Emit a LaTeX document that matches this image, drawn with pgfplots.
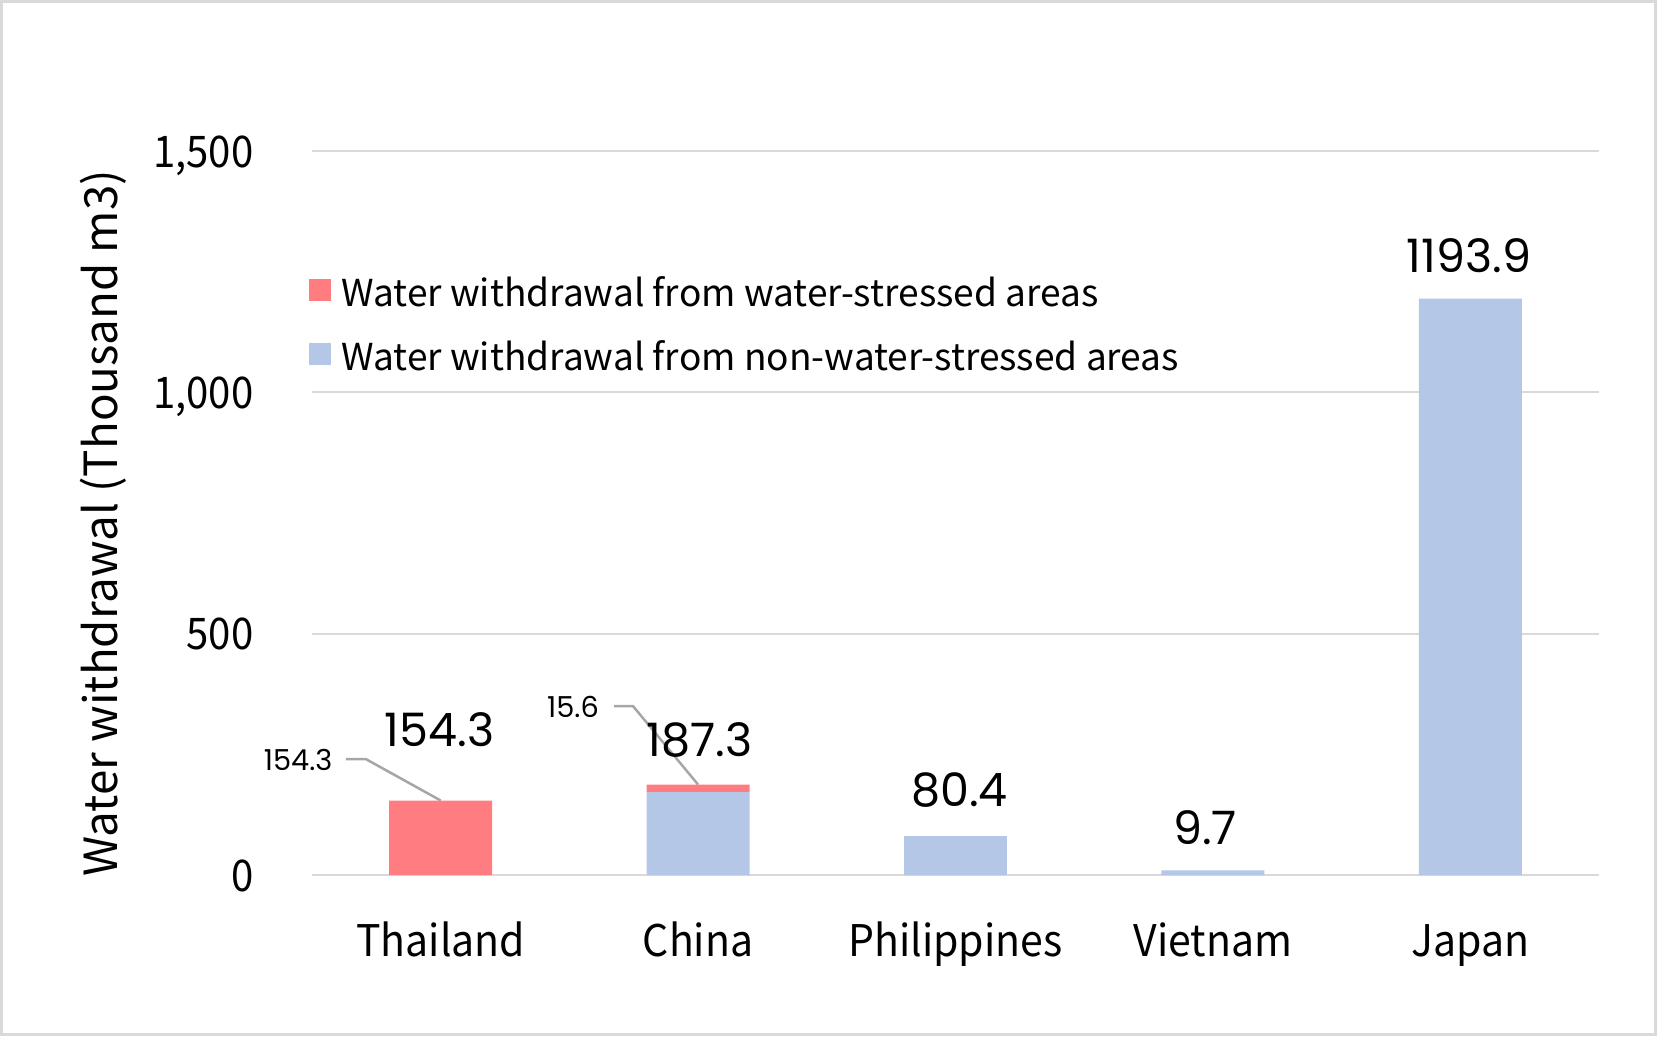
\documentclass[border=0pt]{standalone}
\usepackage{fontspec}
\setmainfont{Noto Sans CJK JP}
\newfontfamily\poppins{Poppins}
\newfontfamily\ytickfont[FakeStretch=0.92]{Noto Sans CJK JP}
\newfontfamily\xtickfont[FakeStretch=0.94]{Noto Sans CJK JP}
\usepackage{pgfplots}
\pgfplotsset{compat=1.18}
\definecolor{redc}{HTML}{FF7C80}
\definecolor{bluec}{HTML}{B4C7E7}
\definecolor{gridc}{HTML}{D9D9D9}
\definecolor{leadc}{HTML}{A6A6A6}
\begin{document}
\begin{tikzpicture}
\useasboundingbox (0,0) rectangle (16.57cm,10.36cm);
\draw[gridc, line width=0.03cm] (0.015cm,0.015cm) rectangle (16.555cm,10.345cm);
\begin{axis}[
  at={(3.12cm,1.61cm)}, anchor=south west,
  scale only axis, width=12.87cm, height=7.24cm,
  xmin=-0.5, xmax=4.5, ymin=0, ymax=1500,
  clip=false,
  ybar stacked, bar width=0.4,
  axis line style={draw=none},
  major tick length=0pt,
  xtick={0,1,2,3,4},
  xticklabels={Thailand,China,Philippines,Vietnam,Japan},
  ytick={0,500,1000,1500},
  ymajorgrids, grid style={gridc, line width=0.02cm},
  /pgf/number format/assume math mode=true,
  yticklabel style={/pgf/number format/1000 sep={,}, anchor=base east, inner sep=0pt, xshift=-0.58cm, yshift=-0.16cm, font=\ytickfont\fontsize{12.4}{14}\selectfont},
  xticklabel style={anchor=base, inner sep=0pt, yshift=-0.81cm, font=\xtickfont\fontsize{12.4}{14}\selectfont},
  ylabel={Water withdrawal (Thousand m3)},
  every axis y label/.style={at={(axis description cs:-0.1624,0.486)}, rotate=90, anchor=center, inner sep=0pt, font=\fontsize{13}{15}\selectfont},
  legend style={at={(axis description cs:-0.0026,0.769)}, anchor=west, draw=none, fill=none,
     font=\fontsize{10.55}{12}\selectfont, row sep=0.24cm, inner sep=0pt,
     nodes={inner sep=0pt, text height=0.4cm, text depth=0pt}},
  legend cell align=left,
  reverse legend,
  legend image code/.code={\path[#1] (0cm,-0.15cm) rectangle (0.22cm,0.07cm);},
]
\addplot[fill=bluec, draw=none] coordinates {(0,0) (1,171.7) (2,80.4) (3,9.7) (4,1193.9)};
\addlegendentry{\hspace{0.1cm}Water withdrawal from non-water-stressed areas}
\addplot[fill=redc, draw=none] coordinates {(0,154.3) (1,15.6) (2,0) (3,0) (4,0)};
\addlegendentry{\hspace{0.1cm}Water withdrawal from water-stressed areas}
% totals
\node[font=\poppins\fontsize{13.1}{15}\selectfont, inner sep=0pt] at (axis cs:-0.004,302) {154.3};
\node[font=\poppins\fontsize{13.1}{15}\selectfont, inner sep=0pt] at (axis cs:1.006,280) {187.3};
\node[font=\poppins\fontsize{13.1}{15}\selectfont, inner sep=0pt] at (axis cs:2.016,175) {80.4};
\node[font=\poppins\fontsize{13.1}{15}\selectfont, inner sep=0pt] at (axis cs:2.969,98.4) {9.7};
\node[font=\poppins\fontsize{13.1}{15}\selectfont, inner sep=0pt] at (axis cs:3.995,1283) {1193.9};
% callouts
\draw[leadc, line width=0.025cm] (axis cs:-0.368,240) -- (axis cs:-0.290,240) -- (axis cs:0,154.3);
\node[font=\poppins\fontsize{8.2}{10}\selectfont, inner sep=0pt] at (axis cs:-0.554,238) {154.3};
\draw[leadc, line width=0.025cm] (axis cs:0.674,350) -- (axis cs:0.747,350) -- (axis cs:1.0,187.3);
\node[font=\poppins\fontsize{8.2}{10}\selectfont, inner sep=0pt] at (axis cs:0.514,348) {15.6};
\end{axis}
\end{tikzpicture}
\end{document}
